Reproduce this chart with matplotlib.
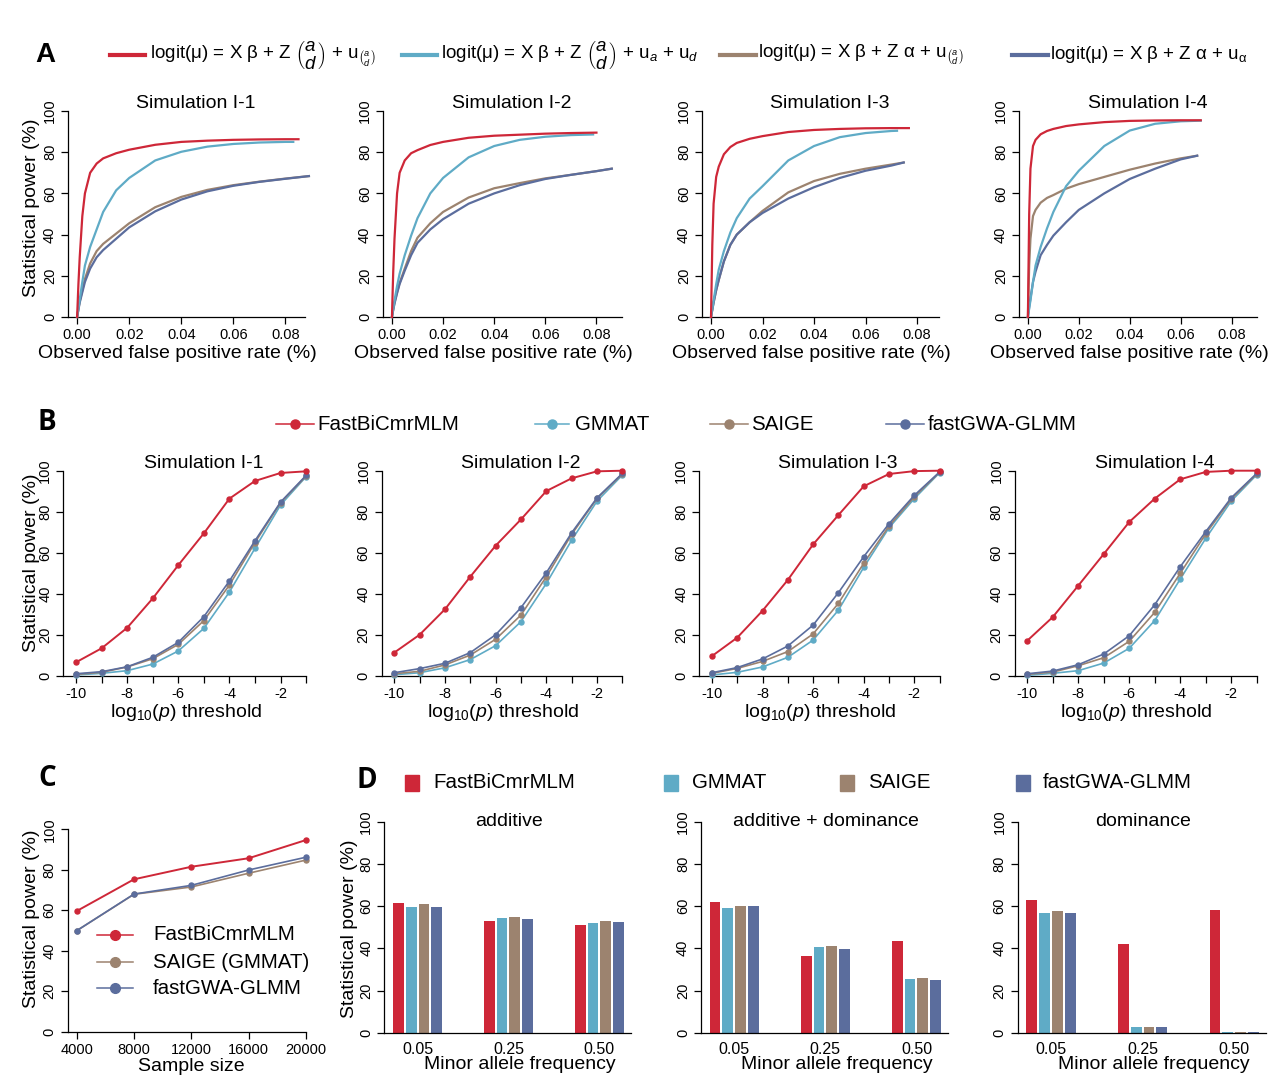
import matplotlib
matplotlib.use('Agg')
import matplotlib.pyplot as plt
from matplotlib.lines import Line2D
from matplotlib.patches import Rectangle

plt.rcParams['font.family'] = ['Liberation Sans', 'DejaVu Sans']
plt.rcParams['mathtext.fontset'] = 'custom'
plt.rcParams['mathtext.rm'] = 'Liberation Sans'
plt.rcParams['mathtext.it'] = 'Liberation Sans:italic'
plt.rcParams['mathtext.bf'] = 'Liberation Sans:bold'

# ---------------- colours ----------------
RED, TEAL, BROWN, BLUE = '#CE2738', '#5FABC6', '#9C836F', '#5B6D9D'

# ---------------- panel A data ----------------
A_TITLES = ['Simulation I-1', 'Simulation I-2', 'Simulation I-3', 'Simulation I-4']
FPR_GRID = [0, 0.0005, 0.001, 0.002, 0.003, 0.005, 0.0075, 0.01, 0.015, 0.02,
            0.03, 0.04, 0.05, 0.06, 0.07, 0.08]
AD = r'\genfrac{(}{)}{0}{0}{a}{d}'
AD_SMALL = r'\genfrac{(}{)}{0}{1}{a}{d}'
A_LABELS = [r'logit(μ) = X β + Z $' + AD + r'$ + u$_{' + AD_SMALL + r'}$',
            r'logit(μ) = X β + Z $' + AD + r'$ + u$_{a}$ + u$_{d}$',
            r'logit(μ) = X β + Z α + u$_{' + AD_SMALL + r'}$',
            r'logit(μ) = X β + Z α + u$_{\mathrm{α}}$']
# power values on FPR_GRID, followed by the curve's end point (fpr, power)
A1_red = [0, 16, 29, 49, 60, 70, 74.5, 77, 79.5, 81.2, 83.6, 85, 85.6, 86, 86.2, 86.3]
A1_teal = [0, 4, 8.5, 17, 25, 34, 42.5, 51, 61.5, 67.5, 76, 80.2, 82.7, 84, 84.7, 85]
A1_brown = [0, 4, 7.5, 13, 18.5, 26, 32, 35.5, 40.5, 45.5, 53.3, 58.3, 61.7, 64, 65.7, 67.2]
A1_blue = [0, 3.5, 7, 12, 17, 23.5, 29, 32.5, 38, 43.5, 51.3, 57, 61, 63.7, 65.6, 67.1]
A1_end = [(0.085, 86.3), (0.083, 85), (0.089, 68.4), (0.089, 68.4)]

A2_red = [0, 22, 38, 60, 70, 76, 79.5, 81, 83.5, 85, 87, 88, 88.5, 89, 89.3]
A2_teal = [0, 4, 8, 15, 21, 30, 39.5, 48, 60, 67.5, 77.5, 83, 86, 87.5, 88.3]
A2_brown = [0, 3.5, 7, 12, 16.5, 23.5, 32, 38.5, 45.5, 51, 58, 62.5, 65, 67.3, 69, 70.8]
A2_blue = [0, 3.5, 6.5, 11.5, 16, 22.5, 30, 36, 42.5, 47.5, 55, 60, 64, 67, 69, 70.8]
A2_end = [(0.08, 89.5), (0.0787, 88.6), (0.086, 72), (0.086, 72)]

A3_red = [0, 35, 55, 68, 73, 79, 82.5, 84.5, 86.5, 87.8, 89.8, 90.8, 91.3, 91.6, 91.7]
A3_teal = [0, 4, 8, 16, 23, 32, 41, 48, 57.5, 63.5, 76, 83, 87.3, 89.3, 90.3]
A3_brown = [0, 3.5, 7, 13, 18, 27, 35, 40, 46, 51.5, 60.5, 66, 69.5, 72, 74]
A3_blue = [0, 3.5, 7, 13, 18, 27, 35, 40, 46, 50.5, 57.5, 63, 67.5, 71, 73.5]
A3_end = [(0.0768, 91.7), (0.0722, 90.4), (0.0748, 75), (0.0748, 75)]

A4_red = [0, 50, 72, 83, 86, 88.7, 90.3, 91.3, 92.7, 93.5, 94.6, 95.2, 95.4, 95.5]
A4_teal = [0, 4, 8, 17, 25, 34, 43, 51, 63.5, 71, 83, 90.5, 93.8, 95]
A4_brown = [0, 25, 38, 49, 52, 55.5, 57.8, 59.2, 62.3, 64.5, 68, 71.5, 74.5, 77]
A4_blue = [0, 5, 9, 17, 22, 30, 35, 39.5, 46, 52, 60, 67, 72, 76.5]
A4_end = [(0.0679, 95.5), (0.0679, 95.3), (0.0665, 78.3), (0.0665, 78.3)]

A_SERIES = [[A1_red, A1_teal, A1_brown, A1_blue],
            [A2_red, A2_teal, A2_brown, A2_blue],
            [A3_red, A3_teal, A3_brown, A3_blue],
            [A4_red, A4_teal, A4_brown, A4_blue]]
A_ENDS = [A1_end, A2_end, A3_end, A4_end]

# ---------------- panel B data ----------------
B_METHODS = ['FastBiCmrMLM', 'GMMAT', 'SAIGE', 'fastGWA-GLMM']
LOGP = [-10, -9, -8, -7, -6, -5, -4, -3, -2, -1]
B1_red = [6.7, 13.5, 23.5, 37.8, 54, 69.5, 86.4, 95, 98.9, 99.7]
B1_teal = [0.5, 1.3, 2.6, 5.8, 12.2, 23.2, 40.9, 62.2, 83.3, 97.1]
B1_brown = [0.8, 1.8, 4.4, 8.4, 15.4, 27, 44.3, 65, 84.4, 97.4]
B1_blue = [1.1, 2.1, 4.5, 9.1, 16.4, 28.9, 46.3, 65.9, 84.7, 97.7]
B2_red = [11.4, 20.1, 32.5, 48.4, 63.5, 76.3, 90.1, 96.3, 99.7, 100]
B2_teal = [0.6, 1.6, 4, 8, 14.8, 26.5, 45.1, 66.2, 85.2, 97.9]
B2_brown = [1.1, 2.3, 5.4, 10.2, 17.9, 29.7, 48.4, 69, 86.5, 98.4]
B2_blue = [1.6, 3.6, 6.2, 11.4, 20.1, 33.3, 50.3, 69.8, 86.8, 98.7]
B3_red = [9.7, 18.7, 31.8, 46.8, 64.1, 78.4, 92.4, 98.4, 99.8, 100]
B3_teal = [0.5, 1.8, 4.4, 9.1, 17.5, 32.1, 52.9, 72.2, 86.4, 99]
B3_brown = [1.3, 3.7, 7.1, 11.9, 20.5, 35.4, 54.9, 73, 87.3, 99.2]
B3_blue = [1.6, 4.1, 8.3, 14.6, 24.8, 40.6, 58.1, 74.2, 88, 99.4]
B4_red = [17.2, 28.7, 44, 59.4, 75, 86.4, 95.8, 99.4, 100, 100]
B4_teal = [0.3, 1.3, 2.6, 6.3, 13.5, 27, 47.2, 67, 85.2, 98]
B4_brown = [0.8, 1.9, 5, 8.9, 16.9, 31, 50, 69.2, 86.2, 98.4]
B4_blue = [1.1, 2.4, 5.5, 10.7, 19.6, 34.7, 53.2, 70.3, 86.8, 98.7]
B_SERIES = [[B1_red, B1_teal, B1_brown, B1_blue],
            [B2_red, B2_teal, B2_brown, B2_blue],
            [B3_red, B3_teal, B3_brown, B3_blue],
            [B4_red, B4_teal, B4_brown, B4_blue]]

# ---------------- panel C data ----------------
SAMPLE_SIZE = [4000, 8000, 12000, 16000, 20000]
C_LABELS = ['FastBiCmrMLM', 'SAIGE (GMMAT)', 'fastGWA-GLMM']
C_red = [59.6, 75.3, 81.5, 85.7, 94.7]
C_brown = [49.9, 67.9, 71.5, 78.3, 84.8]
C_blue = [49.9, 68.0, 72.3, 79.9, 86.2]

# ---------------- panel D data ----------------
MAF = ['0.05', '0.25', '0.50']
D_TITLES = ['additive', 'additive + dominance', 'dominance']
D1_red = [61.3, 52.9, 51.0]
D1_teal = [59.6, 54.3, 52.0]
D1_brown = [61.0, 54.8, 52.9]
D1_blue = [59.6, 53.9, 52.3]
D2_red = [61.9, 36.3, 43.4]
D2_teal = [59.1, 40.6, 25.4]
D2_brown = [59.9, 41.1, 25.9]
D2_blue = [60.0, 39.7, 25.0]
D3_red = [62.7, 42.2, 58.0]
D3_teal = [56.7, 2.7, 0.3]
D3_brown = [57.7, 2.7, 0.3]
D3_blue = [56.7, 2.7, 0.3]
D_SERIES = [[D1_red, D1_teal, D1_brown, D1_blue],
            [D2_red, D2_teal, D2_brown, D2_blue],
            [D3_red, D3_teal, D3_brown, D3_blue]]

COLORS = [RED, TEAL, BROWN, BLUE]

# ---------------- figure helpers ----------------
W, H = 1268, 1078
fig = plt.figure(figsize=(W / 100, H / 100), dpi=100)


def add_ax(l, r, t, b):
    return fig.add_axes([l / W, 1 - b / H, (r - l) / W, (b - t) / H])


def fx(x):
    return x / W


def fy(y):
    return 1 - y / H


TICK = 10.5
LAB = 14
LEG = 14.8


def style(ax):
    for s in ['top', 'right']:
        ax.spines[s].set_visible(False)
    for s in ['left', 'bottom']:
        ax.spines[s].set_linewidth(0.9)
    ax.set_ylim(0, 100)
    ax.set_yticks(range(0, 101, 20))
    ax.tick_params(length=5, width=0.9, labelsize=TICK, pad=3)
    for t in ax.get_yticklabels():
        t.set_rotation(90)
        t.set_va('center')


def ylab(ax, xf, yf):
    ax.set_ylabel('Statistical power (%)', fontsize=LAB)
    ax.yaxis.label.set_va('center')
    ax.yaxis.set_label_coords(xf, yf)


def xlab(ax, text, xf, yf):
    ax.set_xlabel(text, fontsize=LAB)
    ax.xaxis.label.set_va('top')
    ax.xaxis.set_label_coords(xf, yf)


# ---------------- Panel A ----------------
A_L = [68, 383, 702, 1019]
A_R = [305, 622, 939, 1257]
A_XMAX = [0.0875, 0.09, 0.0885, 0.09]
for i in range(4):
    ax = add_ax(A_L[i], A_R[i], 111, 317)
    style(ax)
    ax.set_xlim(-0.0035, A_XMAX[i])
    ax.set_xticks([0, 0.02, 0.04, 0.06, 0.08])
    ax.set_xticklabels(['0.00', '0.02', '0.04', '0.06', '0.08'])
    for k in range(4):
        vals = A_SERIES[i][k]
        xe, ye = A_ENDS[i][k]
        xs = FPR_GRID[:len(vals)] + [xe]
        ys = vals + [ye]
        ax.plot(xs, ys, color=COLORS[k], lw=1.6, clip_on=False,
                zorder=5 - k if k < 2 else 3)
    ax.text(0.54, 1.013, A_TITLES[i], transform=ax.transAxes, ha='center',
            va='baseline', fontsize=14)
    xlab(ax, 'Observed false positive rate (%)', 0.463, -0.135)
    if i == 0:
        ylab(ax, -0.152, 0.528)

# legend A
A_LEG = [(110, 145, 150), (402, 437, 441), (720, 756, 758), (1012, 1048, 1050)]
for k in range(4):
    x1, x2, xt = A_LEG[k]
    fig.add_artist(Line2D([fx(x1), fx(x2)], [fy(55), fy(55)], color=COLORS[k], lw=3,
                          transform=fig.transFigure))
    fig.text(fx(xt), fy(55), A_LABELS[k], ha='left', va='center', fontsize=13.5)

# ---------------- Panel B ----------------
B_L = [63.3, 381.6, 699.3, 1014.5]
B_R = [306.1, 622.4, 939.6, 1256.7]
for i in range(4):
    ax = add_ax(B_L[i], B_R[i], 470.7, 676)
    style(ax)
    ax.set_xlim(-10.5, -1)
    ax.set_xticks(LOGP)
    ax.set_xticklabels([str(v) if v % 2 == 0 else '' for v in LOGP])
    for k in [1, 2, 3, 0]:
        ax.plot(LOGP, B_SERIES[i][k], color=COLORS[k], lw=1.4 if k == 0 else 1.2,
                marker='o', ms=3.6, clip_on=False, zorder=4 if k == 0 else 3)
    ax.text(0.578, 1.012, A_TITLES[i], transform=ax.transAxes, ha='center',
            va='baseline', fontsize=14)
    xlab(ax, r'log$_{10}$($p$) threshold', 0.504, -0.125)
    if i == 0:
        ylab(ax, -0.131, 0.55)

B_LEG = [(275.5, 314.3, 317.6), (534.7, 569.4, 575.5), (710, 748, 751.3), (886.3, 924.3, 927.5)]
for k in range(4):
    x1, x2, xt = B_LEG[k]
    fig.add_artist(Line2D([fx(x1), fx(x2)], [fy(424), fy(424)], color=COLORS[k], lw=1.1,
                          transform=fig.transFigure))
    fig.add_artist(Line2D([fx((x1 + x2) / 2)], [fy(424)], color=COLORS[k], marker='o',
                          ms=6.5, transform=fig.transFigure))
    fig.text(fx(xt), fy(424), B_METHODS[k], ha='left', va='center', fontsize=LEG)

# ---------------- Panel C ----------------
axc = add_ax(67.7, 306, 829.3, 1031.7)
style(axc)
axc.set_xlim(3372, 20000)
axc.set_xticks(SAMPLE_SIZE)
axc.tick_params(axis='x', labelsize=10.5)
C_DATA = [C_red, C_brown, C_blue]
C_COL = [RED, BROWN, BLUE]
for k in [1, 2, 0]:
    axc.plot(SAMPLE_SIZE, C_DATA[k], color=C_COL[k], lw=1.4 if k == 0 else 1.2,
             marker='o', ms=3.6, clip_on=False)
xlab(axc, 'Sample size', 0.518, -0.13)
ylab(axc, -0.151, 0.56)
C_ROWS = [935, 962, 988]
for k in range(3):
    yy = C_ROWS[k]
    fig.add_artist(Line2D([fx(97), fx(133)], [fy(yy), fy(yy)], color=C_COL[k], lw=1.1,
                          transform=fig.transFigure))
    fig.add_artist(Line2D([fx(115)], [fy(yy)], color=C_COL[k], marker='o', ms=7,
                          transform=fig.transFigure))
    fig.text(fx(153), fy(yy), C_LABELS[k], ha='left', va='center', fontsize=LEG)

# ---------------- Panel D ----------------
D_L = [384.4, 701, 1017.6]
D_R = [631.2, 948.4, 1266.2]
BW = 0.118
STEP = 0.14
for i in range(3):
    ax = add_ax(D_L[i], D_R[i], 821.7, 1032.7)
    style(ax)
    ax.set_xlim(-0.364, 2.35)
    for k in range(4):
        xs = [g + (k - 1.5) * STEP for g in range(3)]
        ax.bar(xs, D_SERIES[i][k], width=BW, color=COLORS[k], linewidth=0)
    ax.set_xticks(range(3))
    ax.set_xticklabels(MAF, fontsize=11.5)
    ax.tick_params(axis='x', length=0, pad=7)
    ax.text(0.503, 0.98, D_TITLES[i], transform=ax.transAxes, ha='center',
            va='baseline', fontsize=14)
    xlab(ax, 'Minor allele frequency', 0.549, -0.112)
    if i == 0:
        ylab(ax, -0.143, 0.494)

D_LEG = [(412, 433.5), (671, 692), (847, 868.5), (1023, 1043)]
for k in range(4):
    xc, xt = D_LEG[k]
    fig.add_artist(Rectangle((fx(xc - 7), fy(783 + 8)), 14 / W, 16 / H, color=COLORS[k],
                             transform=fig.transFigure))
    fig.text(fx(xt), fy(783), B_METHODS[k], ha='left', va='center', fontsize=LEG)

# ---------------- panel letters ----------------
fig.text(fx(45), fy(55), 'A', ha='center', va='center', fontsize=20, fontweight='bold')
for lab, x, y in [('B', 47, 423), ('C', 47, 778), ('D', 367, 781)]:
    fig.text(fx(x), fy(y), lab, ha='center', va='center', fontsize=20, fontweight='bold',
             family=['Open Sans', 'Liberation Sans'])

fig.savefig('out.png', dpi=100, facecolor='white')
